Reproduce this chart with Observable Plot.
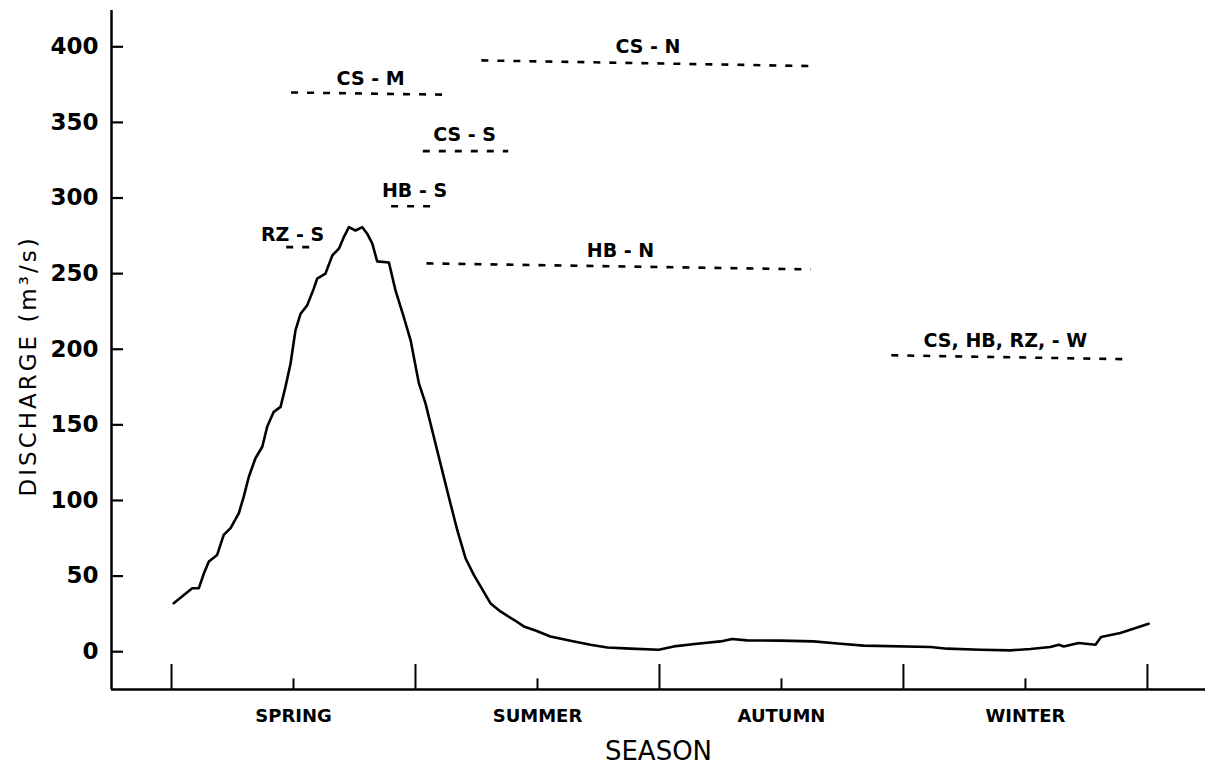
<!DOCTYPE html>
<html>
<head>
<meta charset="utf-8">
<script src="https://cdn.jsdelivr.net/npm/d3@7"></script>
<script src="https://cdn.jsdelivr.net/npm/@observablehq/plot@0.6"></script>
<style>
  html, body { margin: 0; padding: 0; background: #fff; }
</style>
</head>
<body>
<div id="chart"></div>
<script>
// x is in season units: 0 = start of spring, 1 = start of summer, ... 4 = end of winter
const curveX = [0.009,0.085,0.112,0.133,0.153,0.187,0.214,0.242,0.276,0.296,0.317,0.344,0.372,0.392,0.419,0.447,0.467,0.488,0.508,0.529,0.556,0.583,0.597,0.631,0.659,0.686,0.706,0.720,0.727,0.754,0.782,0.802,0.823,0.843,0.891,0.918,0.952,0.980,1.014,1.041,1.075,1.109,1.143,1.171,1.205,1.239,1.307,1.348,1.403,1.444,1.492,1.553,1.635,1.717,1.786,1.881,1.997,2.059,2.154,2.250,2.298,2.359,2.496,2.631,2.742,2.837,3.111,3.179,3.316,3.439,3.520,3.602,3.637,3.657,3.718,3.787,3.810,3.889,4.005];
const curveY = [32.1,42.0,42.0,51.9,59.6,64.0,77.2,81.7,91.6,102.5,115.7,127.9,135.5,148.7,158.6,161.9,175.1,190.6,212.5,223.5,229.0,240.1,246.7,250.0,262.0,266.5,274.1,278.5,280.7,278.5,280.7,276.4,269.8,258.1,257.4,238.9,221.3,205.9,177.4,164.2,142.1,120.1,98.2,80.5,61.8,50.8,32.1,26.6,21.1,16.7,14.0,10.1,7.3,4.6,2.8,2.0,1.3,3.5,5.3,6.8,8.4,7.5,7.3,6.8,5.3,4.0,3.1,2.0,1.3,0.9,1.8,3.1,4.6,3.5,5.7,4.6,9.7,12.3,18.5];

// Dashed sampling-period lines
const segLabels = ["CS - M","CS - S","HB - S","RZ - S","CS - N","HB - N","CS, HB, RZ, - W"];
const segX1 = [0.49, 1.03, 0.90, 0.47, 1.27, 1.045, 2.95];
const segX2 = [1.13, 1.38, 1.08, 0.58, 2.61, 2.62, 3.92];
const segY1 = [369.8, 331.0, 294.6, 267.5, 391.0, 256.8, 196.0];
const segY2 = [368.3, 331.0, 294.6, 267.5, 387.3, 252.8, 193.4];
const labelX = [0.816, 1.201, 0.996, 0.496, 1.953, 1.84, 3.418];
const labelY = [379, 341.6, 304.6, 275.6, 400, 265, 205.6];

const yTicks = [0, 50, 100, 150, 200, 250, 300, 350, 400];
const seasonNames = ["SPRING", "SUMMER", "AUTUMN", "WINTER"];
const seasonCenters = [0.5, 1.5, 2.5, 3.5];
const seasonBounds = [0, 1, 2, 3, 4];

const xMin = -0.246, xMax = 4.238, yMin = -25, yMax = 424;

const curve = curveX.map((x, i) => ({x, y: curveY[i]}));
const segs = segLabels.map((label, i) => ({label, x1: segX1[i], x2: segX2[i], y1: segY1[i], y2: segY2[i], lx: labelX[i], ly: labelY[i]}));

const chart = Plot.plot({
  width: 1205,
  height: 768,
  marginLeft: 111,
  marginRight: 0,
  marginTop: 10,
  marginBottom: 79,
  x: {domain: [xMin, xMax]},
  y: {domain: [yMin, yMax]},
  style: {fontFamily: "DejaVu Sans", background: "white", color: "black"},
  marks: [
    // axis lines
    Plot.ruleX([xMin], {stroke: "black", strokeWidth: 2.5}),
    Plot.ruleY([yMin], {stroke: "black", strokeWidth: 2.5}),
    // y ticks pointing inward
    Plot.ruleY(yTicks, {x1: xMin, x2: xMin + 12 / 244, stroke: "black", strokeWidth: 2.2}),
    Plot.axisY(yTicks, {tickSize: 0, tickPadding: 13, fontSize: 23, fontWeight: "bold", label: null}),
    // x ticks: tall season boundaries, short season centres
    Plot.ruleX(seasonBounds, {y1: yMin, y2: yMin + 16.5, stroke: "black", strokeWidth: 2}),
    Plot.ruleX(seasonCenters, {y1: yMin, y2: yMin + 7, stroke: "black", strokeWidth: 2}),
    Plot.axisX(seasonCenters, {tickSize: 0, tickPadding: 20, fontSize: 18, fontWeight: "bold", label: null,
      tickFormat: d => seasonNames[seasonCenters.indexOf(d)]}),
    // axis titles
    Plot.text([{label: "SEASON"}], {text: "label", frameAnchor: "bottom", dy: 70, fontSize: 26}),
    Plot.text([{label: "DISCHARGE (m\u00b3/s)", y: 189}], {text: "label", y: "y", frameAnchor: "left", textAnchor: "middle", dx: -83, rotate: -90, fontSize: 23}),
    // discharge curve
    Plot.line(curve, {x: "x", y: "y", stroke: "black", strokeWidth: 2.6, curve: "linear"}),
    // dashed sampling lines
    Plot.link(segs, {x1: "x1", x2: "x2", y1: "y1", y2: "y2", stroke: "black", strokeWidth: 2.6, strokeDasharray: "7,9"}),
    Plot.text(segs, {x: "lx", y: "ly", text: "label", fontSize: 19, fontWeight: "bold"})
  ]
});

d3.select(chart).selectAll("text").filter(function() { return this.textContent.startsWith("DISCHARGE"); })
  .style("letter-spacing", "3px");

document.getElementById("chart").appendChild(chart);
</script>
</body>
</html>
